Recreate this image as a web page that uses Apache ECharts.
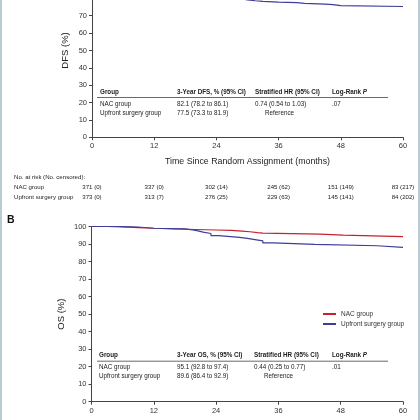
<!DOCTYPE html>
<html><head><meta charset="utf-8">
<script src="https://cdn.jsdelivr.net/npm/echarts/dist/echarts.min.js"></script>
<style>
html,body{margin:0;padding:0;width:420px;height:420px;overflow:hidden;background:#fff;position:relative}
#c{position:absolute;left:0;top:-40px;width:420px;height:460px}
.bd{position:absolute;top:0;width:2px;height:420px;background:#b9ccd6;z-index:5}
</style></head>
<body>
<div id="c"></div>
<div class="bd" style="left:0"></div>
<div class="bd" style="right:0"></div>
<script>
// ---- data ----
const xTicks = [0, 12, 24, 36, 48, 60];
const dfsNacT = [0, 3, 6, 9, 12, 15, 18, 21, 24, 27, 30, 33, 36, 40, 44, 48, 52, 60];
const dfsNacV = [100, 98.5, 96.5, 94.5, 92, 89.5, 87.5, 86, 84.5, 83.5, 82.8, 82.4, 82.1, 81.6, 81.2, 80.9, 80.6, 80.4];
const dfsUpT = [0, 3, 6, 9, 12, 15, 18, 21, 24, 27, 28.6, 30, 31.5, 33, 36, 39.5, 41, 45, 46.5, 48, 60];
const dfsUpV = [100, 98, 95.5, 92.5, 90, 87.5, 85, 83, 81.5, 80, 79.1, 78.6, 78.2, 77.8, 77.5, 77.1, 76.7, 76.4, 75.8, 75.3, 75.2];
const osNacT = [0, 3, 6, 9, 12, 16, 20, 24, 27, 29, 30.5, 32, 33, 44, 48.5, 60];
const osNacV = [100, 99.8, 99.4, 99.0, 98.6, 98.3, 98.0, 97.8, 97.4, 97.0, 96.5, 96.2, 95.6, 95.1, 94.2, 94.2];
const osUpT = [0, 5, 9, 12, 18, 19.5, 20.5, 21.5, 23, 24.5, 28.5, 30, 31.5, 33, 35, 43, 55, 60];
const osUpV = [100, 99.7, 99.0, 98.6, 98.0, 97.5, 96.8, 96.0, 94.8, 93.8, 93.2, 92.5, 91.8, 90.6, 89.8, 89.0, 88.1, 88.1];
const riskNac = ['371 (0)', '337 (0)', '302 (14)', '245 (62)', '151 (149)', '83 (217)'];
const riskUp = ['373 (0)', '313 (7)', '276 (25)', '229 (63)', '145 (141)', '84 (202)'];
const groups = ['NAC group', 'Upfront surgery group'];
const dfsHeader = ['Group', '3-Year DFS, % (95% CI)', 'Stratified HR (95% CI)', 'Log-Rank {i|P}'];
const dfsRowNac = ['NAC group', '82.1 (78.2 to 86.1)', '0.74 (0.54 to 1.03)', '.07'];
const dfsRowUp = ['Upfront surgery group', '77.5 (73.3 to 81.9)', 'Reference', ''];
const osHeader = ['Group', '3-Year OS, % (95% CI)', 'Stratified HR (95% CI)', 'Log-Rank {i|P}'];
const osRowNac = ['NAC group', '95.1 (92.8 to 97.4)', '0.44 (0.25 to 0.77)', '.01'];
const osRowUp = ['Upfront surgery group', '89.6 (86.4 to 92.9)', 'Reference', ''];

// ---- rendering ----
const RED = '#c4232d', BLUE = '#3d3d9a';
const FF = '"Liberation Sans", Arial, sans-serif';
const OFF = 40; // container shifted up
const Y = v => v + OFF;
const zip = (t, v) => t.map((x, i) => [x, v[i]]);

const chart = echarts.init(document.getElementById('c'), null, {renderer: 'canvas'});

function xAx(idx, name) {
  return {
    type: 'value', gridIndex: idx, min: 0, max: 60, interval: 12,
    name: name, nameLocation: 'middle', nameGap: 20, nameMoveOverlap: false,
    nameTextStyle: {fontFamily: FF, fontSize: 8.8, color: '#222'},
    axisLine: {lineStyle: {color: '#444', width: 1}},
    axisTick: {length: 3, lineStyle: {color: '#444'}},
    axisLabel: {fontFamily: FF, fontSize: 7.5, color: '#333', margin: 5},
    splitLine: {show: false}
  };
}
function yAx(idx, name, gap) {
  return {
    type: 'value', gridIndex: idx, min: 0, max: 100, interval: 10,
    name: name, nameLocation: 'middle', nameGap: gap, nameMoveOverlap: false,
    nameTextStyle: {fontFamily: FF, fontSize: 9.5, color: '#222'},
    axisLine: {show: true, lineStyle: {color: '#444', width: 1}},
    axisTick: {show: true, length: 3, lineStyle: {color: '#444'}},
    axisLabel: {fontFamily: FF, fontSize: 7.5, color: '#333', margin: 5},
    splitLine: {show: false}
  };
}
function ser(name, idx, data, color) {
  return {
    name: name, type: 'line', xAxisIndex: idx, yAxisIndex: idx, step: 'end',
    symbol: 'none', showSymbol: false, data: data,
    lineStyle: {color: color, width: 1.2}, itemStyle: {color: color}
  };
}

chart.setOption({
  animation: false,
  grid: [
    {left: 92, right: 17, top: Y(-36.4), height: 173.7, outerBoundsMode: 'none', containLabel: false},
    {left: 91.5, right: 17, top: Y(226.5), height: 175.2, outerBoundsMode: 'none', containLabel: false}
  ],
  xAxis: [xAx(0, 'Time Since Random Assignment (months)'), xAx(1, 'Time Since Random Assignment (months)')],
  yAxis: [yAx(0, 'DFS (%)', 22), yAx(1, 'OS (%)', 25)],
  legend: {
    data: groups, orient: 'vertical', left: 318, top: Y(305), itemWidth: 13, itemHeight: 2,
    itemGap: 2, icon: 'rect',
    textStyle: {fontFamily: FF, fontSize: 6.5, color: '#333', lineHeight: 8}
  },
  series: [
    ser('NAC group (DFS)', 0, zip(dfsNacT, dfsNacV), RED),
    ser('Upfront surgery group (DFS)', 0, zip(dfsUpT, dfsUpV), BLUE),
    ser(groups[0], 1, zip(osNacT, osNacV), RED),
    ser(groups[1], 1, zip(osUpT, osUpV), BLUE)
  ]
});

function txt(s, x, y, opt) {
  opt = opt || {};
  return {
    type: 'text', x: x, y: Y(y), z: 10,
    style: {
      text: s, fontFamily: FF, fontSize: opt.size || 6.3, fontWeight: opt.bold ? 'bold' : 'normal',
      fill: opt.color || '#222', align: opt.align || 'left', verticalAlign: 'middle',
      rich: {i: {fontFamily: FF, fontSize: opt.size || 6.3, fontWeight: opt.bold ? 'bold' : 'normal', fontStyle: 'italic', fill: opt.color || '#222'}}
    }
  };
}
function hline(x1, x2, y) {
  return {type: 'line', z: 10, shape: {x1: x1, y1: Y(y), x2: x2, y2: Y(y)}, style: {stroke: '#444', lineWidth: 0.8}};
}
function table(header, r1, r2, cols, yH, yL, y1, y2, refX) {
  const g = [];
  header.forEach((h, i) => g.push(txt(h, cols[i], yH, {bold: true})));
  r1.forEach((h, i) => { if (h) g.push(txt(h, cols[i], y1)); });
  r2.forEach((h, i) => { if (h) g.push(txt(h, i === 2 ? refX : cols[i], y2)); });
  g.push(hline(97, 388, yL));
  return g;
}

const graphic = [];
graphic.push(...table(dfsHeader, dfsRowNac, dfsRowUp, [100, 177, 255, 332], 92.6, 97.5, 104.2, 113.3, 265));
graphic.push(...table(osHeader, osRowNac, osRowUp, [99, 177, 254, 332], 355.7, 361.2, 367.4, 376.7, 264));
graphic.push(txt('No. at risk (No. censored):', 14, 177.2, {size: 6.1}));
graphic.push(txt(groups[0], 14, 187.6, {size: 6.1}));
graphic.push(txt(groups[1], 14, 196.9, {size: 6.1}));
xTicks.forEach((t, i) => {
  const px = chart.convertToPixel({xAxisIndex: 0}, t);
  graphic.push(txt(riskNac[i], px, 187.6, {size: 6.1, align: 'center'}));
  graphic.push(txt(riskUp[i], px, 196.9, {size: 6.1, align: 'center'}));
});
graphic.push(txt('B', 7, 220.5, {size: 10.5, bold: true, color: '#111'}));
chart.setOption({graphic: graphic});
</script>
</body></html>
